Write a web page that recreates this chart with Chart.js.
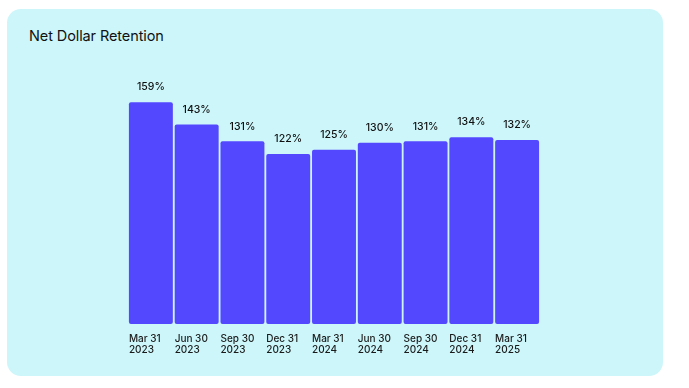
<!DOCTYPE html>
<html>
<head>
<meta charset="utf-8">
<script src="https://cdn.jsdelivr.net/npm/chart.js@4"></script>
<style>
  html, body { margin: 0; padding: 0; background: #ffffff; }
  body { width: 689px; height: 388px; position: relative; overflow: hidden; font-family: Inter, "Noto Sans", sans-serif; }
  .panel { position: absolute; left: 7px; top: 9px; width: 656px; height: 367px; background: #ccf6fa; border-radius: 14px; }
  .title { position: absolute; left: 29px; top: 27px; font-size: 14.5px; color: #111111; letter-spacing: -0.1px; }
  #wrap { position: absolute; left: 0; top: 0; width: 689px; height: 388px; }
</style>
</head>
<body>
<div class="panel"></div>
<div class="title">Net Dollar Retention</div>
<div id="wrap"><canvas id="ndrChart"></canvas></div>
<script>
// Trimestres y valores
const quarters = [
  ['Mar 31', '2023'], ['Jun 30', '2023'], ['Sep 30', '2023'], ['Dec 31', '2023'],
  ['Mar 31', '2024'], ['Jun 30', '2024'], ['Sep 30', '2024'], ['Dec 31', '2024'],
  ['Mar 31', '2025']
];
const ndrValues = [159, 143, 131, 122, 125, 130, 131, 134, 132];

// Etiquetas de valor encima de cada barra
const valueLabels = {
  id: 'valueLabels',
  afterDatasetsDraw(chart) {
    const ctx = chart.ctx;
    const meta = chart.getDatasetMeta(0);
    ctx.save();
    ctx.font = '500 10.5px Inter, sans-serif';
    ctx.fillStyle = '#111111';
    ctx.textAlign = 'center';
    ctx.textBaseline = 'middle';
    meta.data.forEach((bar, i) => {
      ctx.fillText(ndrValues[i] + '%', bar.x, bar.y - 15);
    });
    ctx.restore();
  }
};

const ctx = document.getElementById('ndrChart').getContext('2d');
new Chart(ctx, {
  type: 'bar',
  data: {
    labels: quarters,
    datasets: [{
      data: ndrValues,
      backgroundColor: '#5448ff',
      borderRadius: 2,
      borderSkipped: false,
      categoryPercentage: 1,
      barPercentage: 0.96
    }]
  },
  options: {
    responsive: true,
    maintainAspectRatio: false,
    animation: false,
    layout: { padding: { left: 128, right: 149, top: 80, bottom: 24 } },
    plugins: {
      legend: { display: false },
      tooltip: { enabled: false }
    },
    scales: {
      x: {
        grid: { display: false, drawTicks: false },
        border: { display: false },
        ticks: {
          align: 'start',
          labelOffset: -22,
          padding: 9,
          color: '#1a1a1a',
          font: { family: 'Inter', size: 10, weight: '500', lineHeight: 1.1 },
          maxRotation: 0
        }
      },
      y: {
        display: false,
        min: 0,
        max: 175
      }
    }
  },
  plugins: [valueLabels]
});
</script>
</body>
</html>
